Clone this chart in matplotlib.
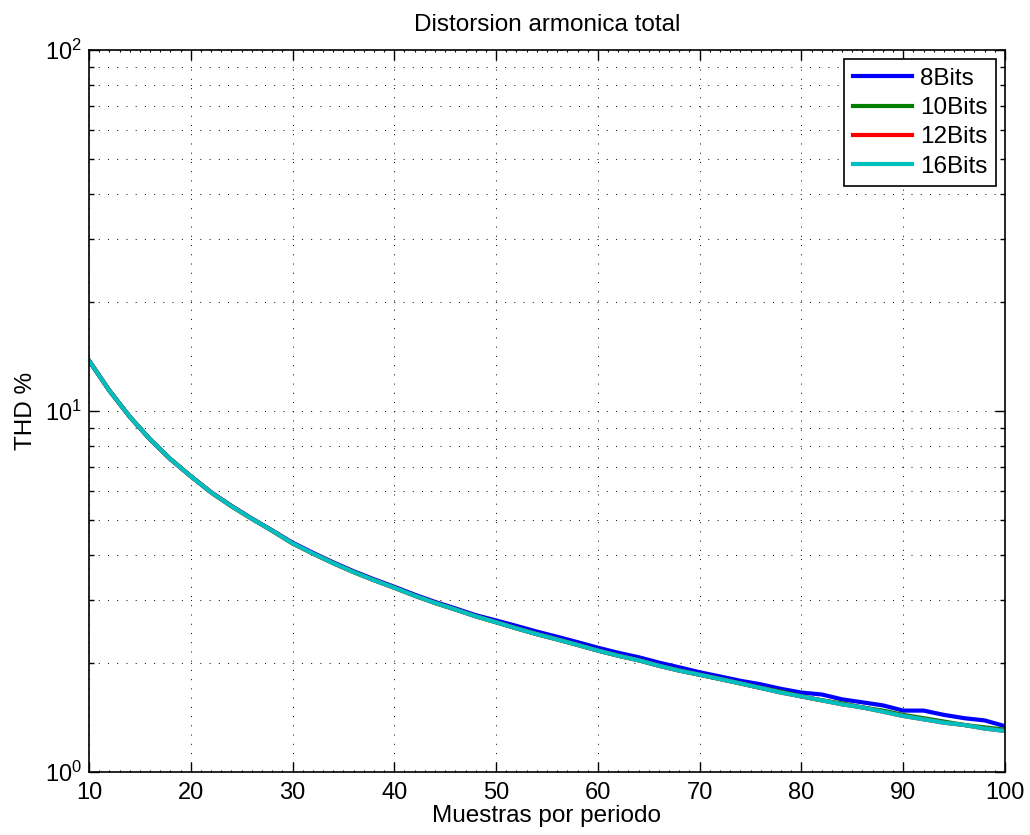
import matplotlib.pyplot as plt
from matplotlib.ticker import LogLocator, NullFormatter, FixedLocator, MultipleLocator

plt.rcParams['font.family'] = ['Liberation Sans', 'DejaVu Sans']
plt.rcParams['mathtext.fontset'] = 'custom'
plt.rcParams['mathtext.rm'] = 'Liberation Sans'

muestras = list(range(10, 101, 2))

# THD %, one value per sample count
thd_16 = [13.8, 11.4, 9.65, 8.35, 7.36, 6.6, 5.95, 5.45, 5.03, 4.66,
          4.30, 4.03, 3.79, 3.58, 3.40, 3.24, 3.08, 2.94, 2.82, 2.70,
          2.60, 2.50, 2.41, 2.33, 2.25, 2.17, 2.10, 2.04, 1.97, 1.91,
          1.86, 1.81, 1.76, 1.71, 1.66, 1.62, 1.58, 1.54, 1.51, 1.47,
          1.43, 1.40, 1.37, 1.35, 1.32, 1.30]
thd_12 = [13.8, 11.4, 9.65, 8.35, 7.36, 6.6, 5.95, 5.45, 5.03, 4.66,
          4.30, 4.03, 3.79, 3.58, 3.40, 3.24, 3.08, 2.94, 2.82, 2.70,
          2.60, 2.50, 2.41, 2.33, 2.25, 2.17, 2.10, 2.04, 1.97, 1.91,
          1.86, 1.81, 1.76, 1.71, 1.66, 1.62, 1.58, 1.54, 1.51, 1.47,
          1.43, 1.40, 1.37, 1.35, 1.32, 1.30]
thd_10 = [13.8, 11.4, 9.65, 8.35, 7.36, 6.6, 5.95, 5.45, 5.03, 4.66,
          4.30, 4.03, 3.79, 3.58, 3.40, 3.24, 3.08, 2.94, 2.82, 2.70,
          2.60, 2.50, 2.41, 2.33, 2.25, 2.17, 2.10, 2.04, 1.97, 1.91,
          1.86, 1.81, 1.76, 1.71, 1.67, 1.62, 1.58, 1.55, 1.51, 1.48,
          1.44, 1.41, 1.38, 1.35, 1.33, 1.31]
thd_8 = [13.8, 11.4, 9.65, 8.35, 7.36, 6.6, 5.96, 5.46, 5.04, 4.67,
         4.32, 4.05, 3.81, 3.60, 3.42, 3.26, 3.10, 2.96, 2.84, 2.72,
         2.63, 2.54, 2.45, 2.37, 2.29, 2.21, 2.14, 2.08, 2.01, 1.95,
         1.89, 1.84, 1.79, 1.75, 1.70, 1.66, 1.64, 1.59, 1.56, 1.53,
         1.48, 1.48, 1.44, 1.41, 1.39, 1.34]

series = [('8Bits', thd_8, '#0000ff'),
          ('10Bits', thd_10, '#008000'),
          ('12Bits', thd_12, '#ff0000'),
          ('16Bits', thd_16, '#00bfbf')]

fig = plt.figure(figsize=(10.3, 8.35), dpi=100)
ax = fig.add_axes([0.0864, 0.0754, 0.8893, 0.8646])

for name, vals, col in series:
    ax.plot(muestras, vals, color=col, linewidth=3.0, label=name)

ax.set_yscale('log')
ax.set_xlim(10, 100)
ax.set_ylim(1, 100)
ax.xaxis.set_major_locator(FixedLocator(range(10, 101, 10)))
ax.xaxis.set_minor_locator(MultipleLocator(1))
ax.yaxis.set_major_locator(LogLocator(base=10))
ax.yaxis.set_minor_locator(LogLocator(base=10, subs=range(2, 10)))
ax.yaxis.set_minor_formatter(NullFormatter())

dots = (0, (1, 8.5))
ax.grid(True, which='major', linestyle=dots, color='k', linewidth=0.7)
ax.grid(True, which='minor', axis='y', linestyle=dots, color='k', linewidth=0.7)

ax.tick_params(which='both', direction='in', top=True, right=True, labelsize=17)
ax.tick_params(which='major', length=7, width=1)
ax.tick_params(which='minor', axis='y', length=3.5, width=1)
ax.tick_params(which='minor', axis='x', length=1.5, width=0.8)
ax.tick_params(axis='x', pad=7)
ax.tick_params(axis='y', pad=5)
for lab in ax.get_yticklabels():
    lab.set_verticalalignment('center_baseline')
for s in ax.spines.values():
    s.set_linewidth(1.2)

ax.set_title('Distorsion armonica total', fontsize=17.5, pad=14)
ax.set_xlabel('Muestras por periodo', fontsize=17.5, labelpad=1)
ax.set_ylabel('THD %', fontsize=17.5, labelpad=6)

leg = ax.legend(loc='upper right', fontsize=17.5, fancybox=False, framealpha=1,
                edgecolor='k', handlelength=2.45, borderaxespad=0.38,
                labelspacing=0.3, handletextpad=0.3, borderpad=0.35)
leg.get_frame().set_linewidth(1.2)

fig.savefig('out.png', dpi=100)
